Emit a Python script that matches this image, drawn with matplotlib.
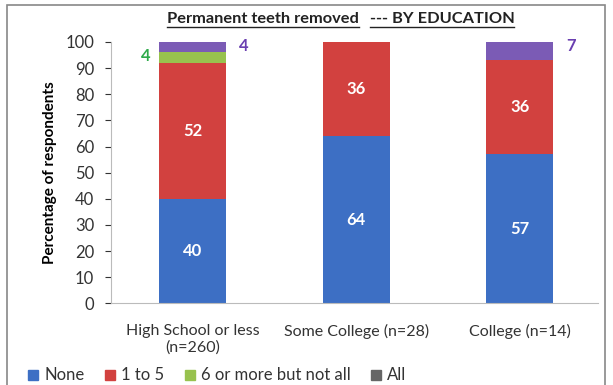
import numpy as np
import matplotlib.pyplot as plt
from matplotlib.lines import Line2D
from matplotlib.patches import Rectangle

plt.rcParams['font.family'] = ['Lato', 'DejaVu Sans']

groups = ["High School or less\n(n=260)", "Some College (n=28)", "College (n=14)"]
series = ["None", "1 to 5", "6 or more but not all", "All"]
none_vals = [40, 64, 57]
one_to_five = [52, 36, 36]
six_plus = [4, 0, 0]
all_vals = [4, 0, 7]

bar_colors = ["#3D6FC4", "#D2413F", "#98C24E", "#7B5BB5"]
legend_colors = ["#3D6FC4", "#D2413F", "#98C24E", "#666666"]

fig = plt.figure(figsize=(6.13, 3.85), dpi=100)
ax = fig.add_axes([0.181, 0.212, 0.795, 0.679])

x = np.arange(len(groups))
width = 0.41
bottom = np.zeros(len(groups))
stacks = [none_vals, one_to_five, six_plus, all_vals]
for vals, col in zip(stacks, bar_colors):
    ax.bar(x, vals, width, bottom=bottom, color=col)
    bottom += np.array(vals)

# labels inside the bars
for i in range(len(groups)):
    ax.text(x[i], none_vals[i] / 2, str(none_vals[i]), ha='center', va='center',
            color='white', fontsize=12, fontweight='bold')
    ax.text(x[i], none_vals[i] + one_to_five[i] / 2, str(one_to_five[i]),
            ha='center', va='center', color='white', fontsize=12, fontweight='bold')

# small segments labelled outside
ax.text(x[0] - width / 2 - 0.05, none_vals[0] + one_to_five[0] + six_plus[0] / 2 + 0.5,
        str(six_plus[0]), ha='right', va='center', color='#2EAA4A', fontsize=12, fontweight='bold')
ax.text(x[0] + width / 2 + 0.08, 98.5, str(all_vals[0]), ha='left', va='center',
        color='#6A3FB0', fontsize=12, fontweight='bold')
ax.text(x[2] + width / 2 + 0.08, 98.5, str(all_vals[2]), ha='left', va='center',
        color='#6A3FB0', fontsize=12, fontweight='bold')

ax.set_xlim(-0.5, 2.48)
ax.set_ylim(0, 100)
ax.set_yticks(range(0, 101, 10))
ax.set_xticks(x)
ax.set_xticklabels(groups, fontsize=11.5, color='#333333')
ax.tick_params(axis='y', labelsize=12, colors='#333333', length=4, direction='out', pad=8)
ax.tick_params(axis='x', length=0, pad=15)
for s in ['top', 'right']:
    ax.spines[s].set_visible(False)
ax.spines['left'].set_color('#BBBBBB')
ax.spines['bottom'].set_color('#BBBBBB')
ax.set_ylabel("Percentage of respondents", fontsize=11, fontweight='bold', labelpad=6)

# title in two underlined parts
t1 = fig.text(0.272, 0.951, "Permanent teeth removed", fontsize=11.8, fontweight='bold',
              ha='left', va='center', color='#222222')
fig.canvas.draw()
r = fig.canvas.get_renderer()
bb1 = t1.get_window_extent(r).transformed(fig.transFigure.inverted())
t2 = fig.text(bb1.x1 + 11 / 613, 0.951, "--- BY EDUCATION", fontsize=11.8, fontweight='bold',
              ha='left', va='center', color='#222222')
fig.canvas.draw()
for t in (t1, t2):
    bb = t.get_window_extent(r).transformed(fig.transFigure.inverted())
    fig.add_artist(Line2D([bb.x0, bb.x1], [bb.y0 - 0.003, bb.y0 - 0.003],
                          color='#222222', lw=1.0, transform=fig.transFigure))

handles = [Line2D([], [], marker='s', linestyle='', markersize=7, color=c) for c in legend_colors]
fig.legend(handles, series, loc='lower left', bbox_to_anchor=(0.012, -0.035), ncol=4,
           frameon=False, fontsize=12, handletextpad=0.0, columnspacing=0.9,
           handlelength=1.3, labelcolor='#333333')

fig.add_artist(Rectangle((0.012, -0.1), 0.975, 1.088, transform=fig.transFigure,
                         fill=False, edgecolor='#888888', lw=1.2))

fig.savefig("out.png", dpi=100)
